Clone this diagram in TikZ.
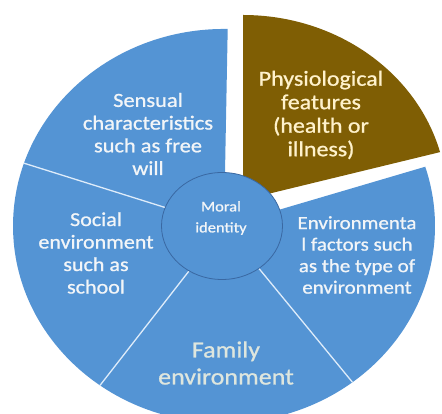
\documentclass[tikz,border=0pt]{standalone}
\usepackage{fontspec}
\setmainfont{Carlito}[FakeStretch=1.12,FakeBold=0.9]
\usetikzlibrary{shapes.geometric}
\definecolor{pieblue}{RGB}{84,148,212}
\definecolor{piebrown}{RGB}{127,94,4}
\definecolor{rimline}{RGB}{222,236,250}
\definecolor{ringblue}{RGB}{58,104,162}
\definecolor{lbltext}{RGB}{242,245,248}
\definecolor{physiotext}{RGB}{255,242,204}
\definecolor{familytext}{RGB}{222,230,222}

\begin{document}
\begin{tikzpicture}[x=1pt,y=1pt,
  lbl/.style={align=center,text=lbltext,inner sep=0pt},
  sep/.style={draw=rimline,line width=1.3pt}]

\useasboundingbox (0,0) rectangle (442,414);
\clip (0,0) rectangle (442,414);

\coordinate (c) at (224,188);
\coordinate (v) at (243,214);
\coordinate (vtop) at (243,399);
\coordinate (r1) at (24.0,250.8);
\coordinate (r2) at (100.0,28.6);
\coordinate (r3) at (352.5,31.7);
\coordinate (r5) at (227.7,385.0);

% blue part of the pie and the pulled out slice
\fill[pieblue] (c) -- (r5) arc[start angle=89, end angle=377.5, x radius=211, y radius=197] -- cycle;
\fill[piebrown] (v) -- (vtop) arc[start angle=90, end angle=15, x radius=204, y radius=185] -- cycle;

\draw[sep] (c) -- (r1);
\draw[sep] (c) -- (r2);
\draw[sep] (c) -- (r3);

\node[ellipse,draw=ringblue,line width=0.8pt,fill=pieblue,minimum width=121,minimum height=107] (moral) at (222,188) {};

\node[lbl,font=\fontsize{14.7}{21}\selectfont] (moraltxt) at (221,196) {Moral\\identity};
\node[lbl,font=\fontsize{20}{22.7}\selectfont] (sensual) at (148,280) {Sensual\\characteristics\\such as free\\will};
\node[lbl,text=physiotext,font=\fontsize{21.4}{23.5}\selectfont] (physio) at (321,299) {Physiological\\features\\(health or\\illness)};
\node[lbl,font=\fontsize{19.7}{22.5}\selectfont] (social) at (96,161) {Social\\environment\\such as\\school};
\node[lbl,font=\fontsize{18.7}{21.5}\selectfont] (environ) at (357,159) {Environmenta\\l factors such\\as the type of\\environment};
\node[lbl,text=familytext,font=\fontsize{23.2}{27}\selectfont] (family) at (226,51) {Family\\environment};

\end{tikzpicture}
\end{document}
